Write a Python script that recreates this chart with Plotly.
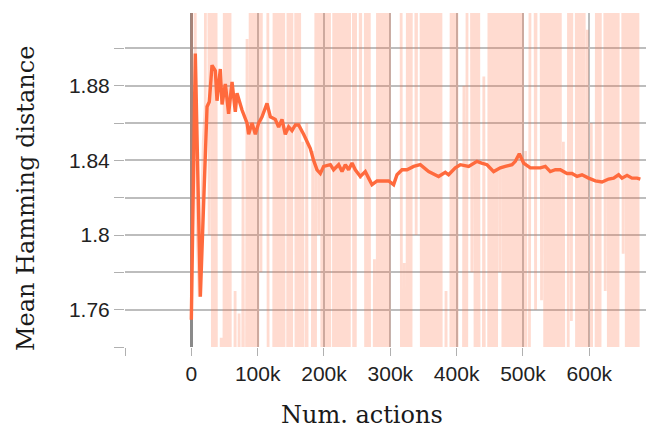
import plotly.graph_objects as go

# Raw per-log values of the mean Hamming distance (logged every 3k actions).
# Most raw values fall far outside the visible band; HI / LO stand for those.
HI = 2.5
LO = 1.2
LOG_EVERY = 3000

raw_values = [
    1.755, HI, 1.90, 1.80, 1.767, 1.80, 1.85, 1.869, HI, 1.80,
    HI, LO, HI, LO, LO, 1.745, LO, HI, LO, HI,
    LO, LO, 1.77, LO, 1.758, LO, 1.84, LO, 1.905, LO,
    HI, LO, HI, LO, HI, 1.78, HI, HI, HI, LO,
    LO, LO, HI, LO, HI, LO, HI, LO, LO, HI,
    LO, HI, HI, LO, HI, LO, 1.85, LO, 1.86, LO,
    LO, 1.845, LO, HI, 1.80, HI, LO, HI, LO, HI,
    LO, LO, HI, LO, HI, LO, HI, LO, HI, LO,
    HI, HI, LO, HI, HI, 1.83, HI, HI, LO, HI,
    LO, LO, 1.787, LO, HI, LO, HI, LO, HI, LO,
    HI, HI, HI, HI, HI, HI, LO, 1.785, LO, HI,
    LO, HI, HI, 1.80, HI, HI, LO, HI, LO, HI,
    LO, HI, LO, HI, LO, HI, LO, LO, 1.77, LO,
    LO, HI, LO, HI, LO, LO, LO, 1.88, LO, HI,
    HI, 1.78, HI, LO, HI, LO, LO, 1.885, LO, LO,
    HI, LO, HI, LO, HI, 1.78, HI, LO, HI, LO,
    HI, LO, HI, LO, HI, LO, HI, LO, 1.845, LO,
    1.79, HI, HI, 1.76, HI, HI, 1.765, HI, LO, HI,
    LO, HI, LO, HI, LO, HI, LO, 1.85, LO, LO,
    HI, 1.754, HI, HI, LO, HI, LO, HI, LO, 1.91,
    LO, 1.86, LO, LO, HI, LO, HI, HI, 1.77, HI,
    LO, HI, LO, HI, LO, HI, HI, 1.79, HI, LO,
    HI, LO, HI, LO, HI, LO,
]
raw_steps = [i * LOG_EVERY for i in range(len(raw_values))]

# Exponentially smoothed curve
smooth_steps = [
    0, 6000, 13600, 23700, 27100, 31200, 36200, 38700, 43700, 46300,
    51300, 56200, 61400, 66300, 68900, 76400, 84000, 86400, 91500, 96500,
    101500, 106600, 114100, 119100, 126600, 131600, 136700, 141700, 146700, 151800,
    156800, 161800, 169300, 171900, 179400, 184400, 189500, 194500, 199500, 209600,
    214500, 222100, 227200, 232200, 237100, 242300, 247200, 254800, 262300, 267300,
    272400, 280000, 289900, 297500, 305000, 310100, 317700, 325200, 335200, 345200,
    357800, 372800, 382900, 387900, 398000, 405500, 418100, 430700, 437600, 445800,
    455800, 465900, 473400, 483500, 488500, 494500, 501000, 511100, 518600, 526200,
    533700, 541200, 548800, 556300, 566400, 574000, 581500, 589000, 599000, 609100,
    619200, 629100, 636700, 644200, 649300, 656900, 664400, 672000, 677000,
]
smooth_values = [
    1.7546, 1.8973, 1.767, 1.8688, 1.8714, 1.891, 1.888, 1.872, 1.889, 1.870,
    1.881, 1.865, 1.882, 1.866, 1.876, 1.867, 1.860, 1.854, 1.860, 1.854,
    1.860, 1.8634, 1.8706, 1.8634, 1.862, 1.8578, 1.862, 1.854, 1.858, 1.856,
    1.859, 1.859, 1.854, 1.852, 1.8464, 1.840, 1.8349, 1.833, 1.8368, 1.8377,
    1.835, 1.8377, 1.834, 1.8377, 1.835, 1.8386, 1.835, 1.8314, 1.834, 1.8305,
    1.827, 1.829, 1.829, 1.829, 1.827, 1.8323, 1.835, 1.835, 1.8368, 1.8377,
    1.834, 1.8314, 1.8336, 1.8323, 1.836, 1.8377, 1.8368, 1.8395, 1.8386, 1.8377,
    1.834, 1.836, 1.8368, 1.8377, 1.8395, 1.8436, 1.8386, 1.836, 1.836, 1.836,
    1.8368, 1.834, 1.835, 1.835, 1.833, 1.833, 1.8314, 1.8323, 1.8305, 1.829,
    1.8284, 1.830, 1.8305, 1.8323, 1.8305, 1.832, 1.8305, 1.8305, 1.830,
]

x_tick_vals = [-100000, 0, 100000, 200000, 300000, 400000, 500000, 600000]
x_tick_text = ["", "0", "100k", "200k", "300k", "400k", "500k", "600k"]
y_tick_vals = [1.74, 1.76, 1.78, 1.80, 1.82, 1.84, 1.86, 1.88, 1.90]
y_tick_text = ["", "1.76", "", "1.8", "", "1.84", "", "1.88", ""]

ORANGE = "#ff6a3d"

fig = go.Figure()
fig.add_trace(go.Scatter(
    x=raw_steps, y=raw_values, mode="lines",
    line=dict(color="rgba(255,112,67,0.25)", width=2.8, simplify=False),
    hoverinfo="skip",
))
fig.add_trace(go.Scatter(
    x=smooth_steps, y=smooth_values, mode="lines",
    line=dict(color=ORANGE, width=3.4),
    hoverinfo="skip",
))

tick_font = dict(family="Liberation Sans, Arial, sans-serif", size=21, color="#222222")
title_font = dict(family="DejaVu Serif, serif", size=24, color="#1a1a1a")

fig.update_layout(
    width=646, height=428,
    margin=dict(l=125, r=0, t=13, b=81),
    paper_bgcolor="white", plot_bgcolor="white",
    showlegend=False,
    xaxis=dict(
        range=[-100000, 685500],
        tickmode="array", tickvals=x_tick_vals, ticktext=x_tick_text,
        ticks="outside", ticklen=8, tickwidth=1.4, tickcolor="#b0b0b0",
        showgrid=True, gridcolor="#bdbdbd", gridwidth=1.5,
        zeroline=True, zerolinecolor="#8a8a8a", zerolinewidth=2.5,
        showline=False, tickfont=tick_font,
    ),
    yaxis=dict(
        range=[1.74, 1.919],
        tickmode="array", tickvals=y_tick_vals, ticktext=y_tick_text,
        ticks="outside", ticklen=10, tickwidth=1.4, tickcolor="#b0b0b0",
        showgrid=True, gridcolor="#bdbdbd", gridwidth=1.5,
        zeroline=False, showline=False, tickfont=tick_font,
    ),
    annotations=[
        dict(text="Num. actions", xref="paper", yref="paper",
             x=0.454, y=-0.205, xanchor="center", yanchor="middle",
             showarrow=False, font=title_font),
        dict(text="Mean Hamming distance", xref="paper", yref="paper",
             x=-0.1887, y=0.445, xanchor="center", yanchor="middle",
             textangle=-90, showarrow=False, font=title_font),
    ],
)

fig.write_html("out.html")
